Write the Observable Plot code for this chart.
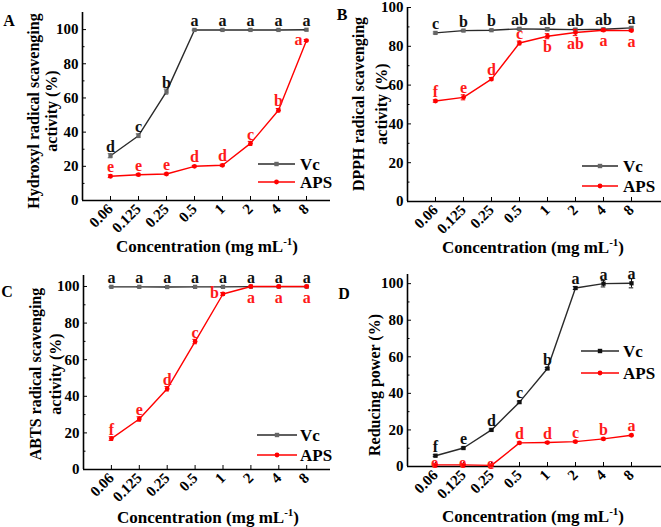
<!DOCTYPE html>
<html><head><meta charset="utf-8">
<script src="https://cdn.jsdelivr.net/npm/d3@7"></script>
<script src="https://cdn.jsdelivr.net/npm/@observablehq/plot@0.6"></script>
<style>
body{margin:0;background:#fff;}
#wrap{position:relative;width:661px;height:527px;overflow:hidden;background:#fff;}
.panel{position:absolute;}
#overlay{position:absolute;left:0;top:0;pointer-events:none;}
</style></head><body><div id="wrap"></div>
<script>
// ---------- data ----------
const concentrations = ["0.06","0.125","0.25","0.5","1","2","4","8"];
const seriesNames = ["Vc","APS"];
const xTitle = "Concentration (mg mL";

// Panel A: hydroxyl radical scavenging
const hydroxylVc      = [26.2, 37.9, 63.7, 99.8, 99.8, 99.8, 99.8, 99.9];
const hydroxylVcErr   = [1.2, 1.1, 1.5, 0.4, 0.4, 0.4, 0.4, 0.4];
const hydroxylVcSig   = ["d","c","b","a","a","a","a","a"];
const hydroxylAps     = [14.2, 15.1, 15.5, 20.0, 20.6, 33.4, 52.8, 93.6];
const hydroxylApsErr  = [0.8, 0.6, 0.5, 0.5, 0.6, 1.2, 1.0, 0.6];
const hydroxylApsSig  = ["e","e","e","d","d","c","b","a"];
const hydroxylApsPos  = ["t","t","t","t","t","t","t","l"];

// Panel B: DPPH radical scavenging
const dpphVc      = [86.9, 88.1, 88.3, 89.0, 88.8, 88.6, 88.8, 89.5];
const dpphVcErr   = [0.5, 0.4, 0.4, 0.5, 0.8, 0.6, 0.5, 0.6];
const dpphVcSig   = ["c","b","b","ab","ab","ab","ab","a"];
const dpphAps     = [51.8, 53.7, 63.1, 81.7, 85.2, 87.1, 88.3, 88.1];
const dpphApsErr  = [0.6, 1.3, 0.8, 1.0, 1.3, 1.6, 0.6, 0.5];
const dpphApsSig  = ["f","e","d","c","b","ab","a","a"];
const dpphApsPos  = ["t","t","t","t","b","b","b","b"];

// Panel C: ABTS radical scavenging
const abtsVc      = [99.8, 99.8, 99.7, 99.8, 99.8, 99.9, 99.9, 99.9];
const abtsVcErr   = [0.2, 0.2, 0.2, 0.2, 0.2, 0.2, 0.2, 0.2];
const abtsVcSig   = ["a","a","a","a","a","a","a","a"];
const abtsAps     = [16.9, 27.6, 44.1, 69.9, 95.9, 100.0, 100.0, 100.0];
const abtsApsErr  = [1.0, 1.2, 1.2, 1.2, 0.8, 0.2, 0.2, 0.2];
const abtsApsSig  = ["f","e","d","c","b","a","a","a"];
const abtsApsPos  = ["t","t","t","t","l","b","b","b"];

// Panel D: reducing power
const reducingVc      = [5.9, 10.1, 20.0, 35.2, 53.6, 97.6, 100.0, 100.2];
const reducingVcErr   = [0.5, 0.5, 0.5, 0.6, 0.5, 0.8, 1.8, 2.5];
const reducingVcSig   = ["f","e","d","c","b","a","a","a"];
const reducingAps     = [0.9, 0.9, 0.6, 12.9, 13.1, 13.6, 15.1, 17.1];
const reducingApsErr  = [0.3, 0.3, 0.3, 0.5, 0.5, 0.5, 0.5, 0.5];
const reducingApsSig  = ["e","e","e","d","d","c","b","a"];
const reducingApsPos  = ["c","c","c","t","t","t","t","t"];

const yTicksMajor = [0, 20, 40, 60, 80, 100];
const yTicksMinor = [10, 30, 50, 70, 90];

// ---------- layout / style ----------
const FONT = "'Liberation Serif','Times New Roman',serif";
const RED = "#ff0000";
const panels = [
  {letter:"A", left:0, top:0, w:330, h:263, ml:82, mt:12, mb:63, ymax:110, step:28,
   vc:hydroxylVc, vcErr:hydroxylVcErr, vcSig:hydroxylVcSig, aps:hydroxylAps, apsErr:hydroxylApsErr, apsSig:hydroxylApsSig, apsPos:hydroxylApsPos,
   vcMarker:"#666", ytitle:["Hydroxyl radical scavenging","activity (%)"],
   letterXY:[9,20], yt:{x:[33,51], y:111}, xt:{x:207,y:252}, leg:{x1:258,x2:295,y:[164,182],tx:300}},
  {letter:"B", left:330, top:0, w:331, h:263, ml:77, mt:7, mb:62, ymax:100, step:28,
   vc:dpphVc, vcErr:dpphVcErr, vcSig:dpphVcSig, aps:dpphAps, apsErr:dpphApsErr, apsSig:dpphApsSig, apsPos:dpphApsPos,
   vcMarker:"#666", ytitle:["DPPH radical scavenging","activity (%)"],
   letterXY:[342,14], yt:{x:[358,381], y:104}, xt:{x:533,y:253}, leg:{x1:582,x2:618,y:[166,186],tx:623}},
  {letter:"C", left:0, top:263, w:330, h:264, ml:83, mt:12, mb:58, ymax:106, step:27.9,
   vc:abtsVc, vcErr:abtsVcErr, vcSig:abtsVcSig, aps:abtsAps, apsErr:abtsApsErr, apsSig:abtsApsSig, apsPos:abtsApsPos,
   vcMarker:"#666", ytitle:["ABTS radical scavenging","activity (%)"],
   letterXY:[7,291], yt:{x:[35,55], y:374}, xt:{x:208,y:523}, leg:{x1:257,x2:297,y:[435,455],tx:300}},
  {letter:"D", left:330, top:263, w:331, h:264, ml:77, mt:11, mb:61, ymax:105, step:28,
   vc:reducingVc, vcErr:reducingVcErr, vcSig:reducingVcSig, aps:reducingAps, apsErr:reducingApsErr, apsSig:reducingApsSig, apsPos:reducingApsPos,
   vcMarker:"#111", ytitle:["Reducing power (%)"],
   letterXY:[344,293], yt:{x:[374], y:385}, xt:{x:533,y:522}, leg:{x1:581,x2:619,y:[351,373],tx:623}}
];

const wrap = document.getElementById("wrap");

function rowsOf(values, errs, sigs, pos, series) {
  return values.map((v, i) => ({conc: i, label: concentrations[i], value: v, err: errs[i], sig: sigs[i], pos: pos ? pos[i] : "t", series}));
}

function sigMarks(rows, fill) {
  const common = {x: "conc", y: "value", text: "sig", fill, fontSize: 16, fontWeight: "bold", lineAnchor: "middle"};
  return [
    Plot.text(rows.filter(d => d.pos === "t"), {...common, dy: -9}),
    Plot.text(rows.filter(d => d.pos === "b"), {...common, dy: 11}),
    Plot.text(rows.filter(d => d.pos === "l"), {...common, textAnchor: "end", dx: -4, dy: -1}),
    Plot.text(rows.filter(d => d.pos === "c"), {...common, dy: -2, dx: -1})
  ];
}

function seriesMarks(rows, lineColor, markerColor, symbol) {
  return [
    Plot.ruleX(rows, {x: "conc", y1: d => d.value - d.err, y2: d => d.value + d.err, stroke: markerColor, strokeWidth: 1}),
    Plot.ruleY(rows, {y: d => d.value - d.err, x1: d => d.conc - 0.08, x2: d => d.conc + 0.08, stroke: markerColor, strokeWidth: 1}),
    Plot.ruleY(rows, {y: d => d.value + d.err, x1: d => d.conc - 0.08, x2: d => d.conc + 0.08, stroke: markerColor, strokeWidth: 1}),
    Plot.line(rows, {x: "conc", y: "value", stroke: lineColor, strokeWidth: 1.4}),
    Plot.dot(rows, {x: "conc", y: "value", symbol, fill: markerColor, stroke: "none", r: 2.4})
  ];
}

panels.forEach(p => {
  const vcRows = rowsOf(p.vc, p.vcErr, p.vcSig, null, seriesNames[0]);
  const apsRows = rowsOf(p.aps, p.apsErr, p.apsSig, p.apsPos, seriesNames[1]);
  const xEnd = (p.w - p.ml) / p.step - 1;
  const chart = Plot.plot({
    width: p.w, height: p.h,
    marginLeft: p.ml, marginRight: 0, marginTop: p.mt, marginBottom: p.mb,
    x: {type: "linear", domain: [-1, xEnd], label: null},
    y: {domain: [0, p.ymax], label: null},
    style: {fontFamily: FONT, fontWeight: "bold", fontSize: "15px", color: "#000", background: "transparent", overflow: "visible"},
    marks: [
      Plot.axisY({ticks: yTicksMinor, tickSize: -2.5, tickFormat: () => "", stroke: "#000", label: null}),
      Plot.axisY({ticks: yTicksMajor, tickSize: -4, tickPadding: 8, stroke: "#000", fontSize: 15, fontWeight: "bold", label: null}),
      Plot.axisX({ticks: d3.range(concentrations.length), tickSize: -4, tickPadding: 10, tickRotate: -45,
                  tickFormat: i => concentrations[i], stroke: "#000", fontSize: 15, fontWeight: "bold", label: null}),
      Plot.ruleY([0], {stroke: "#000", strokeWidth: 1.6}),
      Plot.ruleX([-1], {stroke: "#000", strokeWidth: 1.6}),
      ...seriesMarks(vcRows, "#2a2a2a", p.vcMarker, "square"),
      ...seriesMarks(apsRows, RED, RED, "circle"),
      ...sigMarks(vcRows, "#111"),
      ...sigMarks(apsRows, "#ff1a1a")
    ]
  });
  const div = document.createElement("div");
  div.className = "panel";
  div.style.left = p.left + "px";
  div.style.top = p.top + "px";
  div.appendChild(chart);
  wrap.appendChild(div);
});

// ---------- overlay: titles, panel letters, legends ----------
const svg = d3.create("svg").attr("id", "overlay").attr("width", 661).attr("height", 527)
  .style("font-family", FONT).style("font-weight", "bold");

panels.forEach(p => {
  svg.append("text").attr("x", p.letterXY[0]).attr("y", p.letterXY[1])
    .attr("text-anchor", "middle").attr("dominant-baseline", "central")
    .attr("font-size", 16).text(p.letter);

  p.ytitle.forEach((line, k) => {
    svg.append("text")
      .attr("transform", `translate(${p.yt.x[k]},${p.yt.y}) rotate(-90)`)
      .attr("text-anchor", "middle").attr("dominant-baseline", "central")
      .attr("font-size", 16).text(line);
  });

  const t = svg.append("text").attr("x", p.xt.x).attr("y", p.xt.y)
    .attr("text-anchor", "middle").attr("font-size", 17);
  t.append("tspan").text(xTitle);
  t.append("tspan").attr("font-size", 11).attr("dy", -7).text("-1");
  t.append("tspan").attr("dy", 7).text(")");

  seriesNames.forEach((name, k) => {
    const y = p.leg.y[k];
    const isVc = k === 0;
    svg.append("line").attr("x1", p.leg.x1).attr("x2", p.leg.x2).attr("y1", y).attr("y2", y)
      .attr("stroke", isVc ? "#2a2a2a" : RED).attr("stroke-width", 1.4);
    const cx = (p.leg.x1 + p.leg.x2) / 2;
    if (isVc) {
      svg.append("rect").attr("x", cx - 2.2).attr("y", y - 2.2).attr("width", 4.4).attr("height", 4.4).attr("fill", p.vcMarker);
    } else {
      svg.append("circle").attr("cx", cx).attr("cy", y).attr("r", 2.4).attr("fill", RED);
    }
    svg.append("text").attr("x", p.leg.tx).attr("y", y).attr("dy", "0.35em")
      .attr("font-size", 17).text(name);
  });
});
wrap.appendChild(svg.node());
</script>
</body></html>
